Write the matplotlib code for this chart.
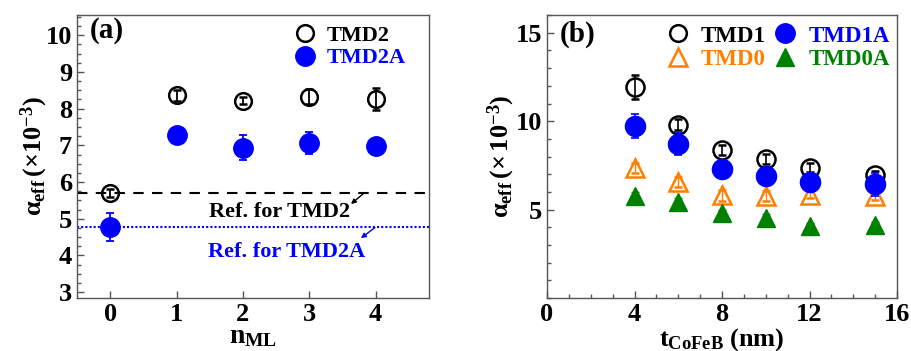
import matplotlib
matplotlib.use("Agg")
import matplotlib.pyplot as plt
from matplotlib.ticker import MultipleLocator
from matplotlib.lines import Line2D

plt.rcParams['font.family'] = ['Liberation Serif', 'DejaVu Serif']
plt.rcParams['font.weight'] = 'bold'
plt.rcParams['axes.labelweight'] = 'bold'
plt.rcParams['mathtext.fontset'] = 'custom'
plt.rcParams['mathtext.rm'] = 'Liberation Serif:bold'
plt.rcParams['mathtext.it'] = 'Liberation Serif:bold'
plt.rcParams['mathtext.bf'] = 'Liberation Serif:bold'

# ---- panel (a) data ----
n_ml = [0, 1, 2, 3, 4]
tmd2 = [5.70, 8.37, 8.22, 8.33, 8.25]
tmd2_err = [0.12, 0.15, 0.10, 0.20, 0.30]
tmd2a = [4.78, 7.27, 6.94, 7.06, 6.97]
tmd2a_err = [0.38, 0.10, 0.35, 0.30, 0.20]
ref_tmd2 = 5.70
ref_tmd2a = 4.78

# ---- panel (b) data ----
t_cofeb = [4, 6, 8, 10, 12, 15]
tmd1 = [11.95, 9.80, 8.38, 7.87, 7.36, 6.93]
tmd1_err = [0.68, 0.30, 0.30, 0.30, 0.25, 0.25]
tmd1a = [9.75, 8.72, 7.27, 6.90, 6.56, 6.43]
tmd1a_err = [0.68, 0.65, 0.20, 0.20, 0.20, 0.65]
tmd0 = [7.35, 6.56, 5.80, 5.77, 5.85, 5.77]
tmd0_err = [0.30, 0.30, 0.30, 0.30, 0.20, 0.20]
tmd0a = [5.77, 5.43, 4.80, 4.55, 4.06, 4.12]
tmd0a_err = [0.20, 0.20, 0.20, 0.20, 0.20, 0.20]

BLUE = '#0000FF'
ORANGE = '#FF7F00'
GREEN = '#008000'
SPINE = '#555555'

fig = plt.figure(figsize=(9.12, 3.51), dpi=100)
axa = fig.add_axes([0.0844, 0.151, 0.3856, 0.806])
axb = fig.add_axes([0.5998, 0.151, 0.3838, 0.806])

def style(ax):
    for s in ax.spines.values():
        s.set_color(SPINE)
        s.set_linewidth(1.0)
    ax.tick_params(which='both', direction='in', top=False, right=False,
                   color=SPINE, labelsize=19)
    ax.tick_params(which='major', length=5, width=1)
    ax.tick_params(which='minor', length=3, width=1)
    for lab in ax.get_xticklabels() + ax.get_yticklabels():
        lab.set_fontweight('bold')

# ---- panel (a) ----
axa.axhline(ref_tmd2, color='black', ls=(0, (5, 4)), lw=1.5, zorder=1)
axa.axhline(ref_tmd2a, color=BLUE, ls=(0, (1, 1)), lw=1.5, zorder=1)
axa.errorbar(n_ml, tmd2, yerr=tmd2_err, fmt='o', ms=12, mfc='none',
             mec='black', mew=1.8, ecolor='black', elinewidth=1.3,
             capsize=3, capthick=1.3, zorder=3)
axa.errorbar(n_ml, tmd2a, yerr=tmd2a_err, fmt='o', ms=14, mfc=BLUE,
             mec=BLUE, ecolor=BLUE, elinewidth=1.3, capsize=3,
             capthick=1.3, zorder=3)
axa.set_xlim(-0.5, 4.8)
axa.set_ylim(2.84, 10.55)
axa.set_xticks(n_ml)
axa.yaxis.set_major_locator(MultipleLocator(1))
axa.yaxis.set_minor_locator(MultipleLocator(0.25))
axa.set_xlabel(r'$\mathrm{n_{ML}}$', fontsize=20, labelpad=-1)
axa.set_ylabel(r'$\alpha_{\mathrm{eff}}\,(\times10^{-3})$', fontsize=19, labelpad=-3)
axa.text(-0.3, 10.5, '(a)', fontsize=21, fontweight='bold', va='top')
axa.text(1.49, 5.18, 'Ref. for TMD2', fontsize=16, fontweight='bold',
         color='black', va='center')
axa.text(1.47, 4.09, 'Ref. for TMD2A', fontsize=16, fontweight='bold',
         color=BLUE, va='center')
axa.annotate('', xy=(3.63, 5.40), xytext=(3.82, 5.69),
             arrowprops=dict(arrowstyle='-|>', color='black', lw=1,
                             mutation_scale=7, shrinkA=0, shrinkB=0))
axa.annotate('', xy=(3.78, 4.47), xytext=(3.99, 4.76),
             arrowprops=dict(arrowstyle='-|>', color=BLUE, lw=1,
                             mutation_scale=7, shrinkA=0, shrinkB=0))
la1 = Line2D([], [], ls='none', marker='o', ms=12, mfc='none', mec='black', mew=1.8)
la2 = Line2D([], [], ls='none', marker='o', ms=14, mfc=BLUE, mec=BLUE)
leg = axa.legend([la1, la2], ['TMD2', 'TMD2A'], loc='upper right',
                 bbox_to_anchor=(0.98, 1.02), frameon=False, fontsize=16,
                 handletextpad=0.4, handlelength=1.2, borderpad=0.2,
                 labelspacing=0.1)
for t, c in zip(leg.get_texts(), ['black', BLUE]):
    t.set_color(c)
style(axa)

# ---- panel (b) ----
axb.errorbar(t_cofeb, tmd0, yerr=tmd0_err, fmt='^', ms=13, mfc='none',
             mec=ORANGE, mew=1.8, ecolor=ORANGE, elinewidth=1.0,
             capsize=3, capthick=1.0, zorder=2)
axb.errorbar(t_cofeb, tmd0a, yerr=tmd0a_err, fmt='^', ms=13, mfc=GREEN,
             mec=GREEN, ecolor=GREEN, elinewidth=1.0, capsize=3,
             capthick=1.0, zorder=2)
axb.errorbar(t_cofeb, tmd1, yerr=tmd1_err, fmt='o', ms=13, mfc='none',
             mec='black', mew=1.8, ecolor='black', elinewidth=1.2,
             capsize=3, capthick=1.2, zorder=3)
axb.errorbar(t_cofeb, tmd1a, yerr=tmd1a_err, fmt='o', ms=14.5, mfc=BLUE,
             mec=BLUE, ecolor=BLUE, elinewidth=1.2, capsize=3,
             capthick=1.2, zorder=3)
axb.set_xlim(0, 16)
axb.set_ylim(0, 16)
axb.xaxis.set_major_locator(MultipleLocator(4))
axb.xaxis.set_minor_locator(MultipleLocator(1))
axb.set_yticks([5, 10, 15])
axb.yaxis.set_minor_locator(MultipleLocator(1))
axb.set_xlabel(r'$\mathrm{t_{CoFeB}}$ (nm)', fontsize=19, labelpad=0)
axb.set_ylabel(r'$\alpha_{\mathrm{eff}}\,(\times\,10^{-3})$', fontsize=19, labelpad=-1)
axb.text(0.6, 15.7, '(b)', fontsize=21, fontweight='bold', va='top')
lb1 = Line2D([], [], ls='none', marker='o', ms=12, mfc='none', mec='black', mew=1.8)
lb2 = Line2D([], [], ls='none', marker='o', ms=14, mfc=BLUE, mec=BLUE)
lb3 = Line2D([], [], ls='none', marker='^', ms=13, mfc='none', mec=ORANGE, mew=1.8)
lb4 = Line2D([], [], ls='none', marker='^', ms=13, mfc=GREEN, mec=GREEN)
legb = axb.legend([lb1, lb3, lb2, lb4], ['TMD1', 'TMD0', 'TMD1A', 'TMD0A'],
                  ncol=2, loc='upper right', bbox_to_anchor=(1.025, 1.02),
                  frameon=False, fontsize=16.5, handletextpad=0.4,
                  handlelength=1.2, columnspacing=0.25, borderpad=0.2,
                  labelspacing=0.1)
for t, c in zip(legb.get_texts(), ['black', ORANGE, BLUE, GREEN]):
    t.set_color(c)
style(axb)

fig.savefig('out.png', dpi=100)
